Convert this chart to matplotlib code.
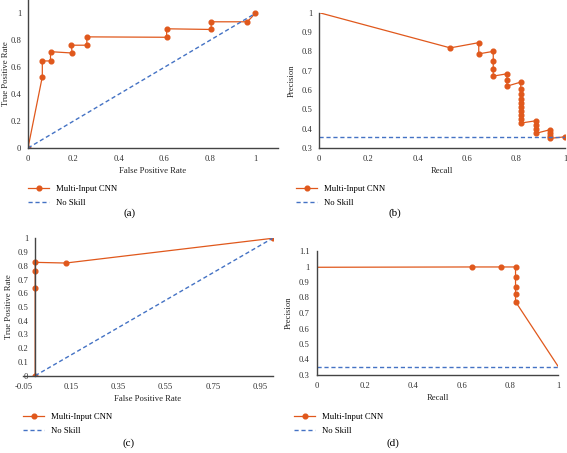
import numpy as np
import matplotlib
matplotlib.use('Agg')
from matplotlib import pyplot as plt
from matplotlib.ticker import FuncFormatter

plt.rcParams['axes.unicode_minus'] = False

# (a) ROC curve, first model
roc_a_fpr = [0, 0.063, 0.063, 0.099, 0.099, 0.194, 0.191, 0.259, 0.259, 0.61, 0.61, 0.806, 0.806, 0.965, 1.0]
roc_a_tpr = [0, 0.53, 0.647, 0.647, 0.716, 0.706, 0.764, 0.764, 0.826, 0.823, 0.886, 0.881, 0.938, 0.938, 1.0]

# (b) precision-recall curve, first model
pr_b_rec = [0, 0.533, 0.649, 0.649, 0.708, 0.708, 0.708, 0.708, 0.764, 0.764, 0.764,
            0.82, 0.82, 0.82, 0.82, 0.82, 0.82, 0.82, 0.82, 0.82, 0.82,
            0.882, 0.882, 0.882, 0.882, 0.94, 0.94, 0.94, 0.94, 1.0]
pr_b_prec = [1.0, 0.818, 0.845, 0.787, 0.800, 0.751, 0.711, 0.672, 0.684, 0.653, 0.620,
             0.641, 0.606, 0.579, 0.555, 0.532, 0.51, 0.489, 0.469, 0.45, 0.429,
             0.441, 0.42, 0.398, 0.376, 0.395, 0.377, 0.364, 0.35, 0.358]
noskill_b = 0.355

# (c) ROC curve, second model
roc_c_fpr = [0, 0, 0, 0, 0.129, 1.0]
roc_c_tpr = [0, 0.64, 0.762, 0.825, 0.82, 1.0]

# (d) precision-recall curve, second model
pr_d_rec = [0, 0.641, 0.763, 0.823, 0.823, 0.823, 0.823, 0.823, 1.0]
pr_d_prec = [0.995, 0.997, 0.997, 0.997, 0.93, 0.87, 0.823, 0.773, 0.354]
noskill_d = 0.354

orange = '#E0581C'
blue = '#4472C4'
serif = 'Liberation Serif'
fs = 6.2

fig = plt.figure(figsize=(5.67, 4.53), dpi=100)
W, H = 567.0, 453.0


def make_ax(l, r, b, t):
    ax = fig.add_axes([l / W, 1 - b / H, (r - l) / W, (b - t) / H])
    for s in ['top', 'right']:
        ax.spines[s].set_visible(False)
    for s in ['left', 'bottom']:
        ax.spines[s].set_color('#444444')
        ax.spines[s].set_linewidth(1.0)
    ax.tick_params(length=0, labelsize=fs, colors='#333333', pad=5)
    ax.xaxis.set_major_formatter(FuncFormatter(lambda v, p: '{:g}'.format(round(v, 2))))
    ax.yaxis.set_major_formatter(FuncFormatter(lambda v, p: '{:g}'.format(round(v, 2))))
    return ax


def style_labels(ax, xl, yl, ylab_x):
    ax.set_xlabel(xl, fontsize=fs, family=serif, color='#222222', labelpad=3)
    ax.set_ylabel(yl, fontsize=fs, family=serif, color='#222222')
    ax.yaxis.set_label_coords(ylab_x, 0.5)
    for lab in ax.get_xticklabels() + ax.get_yticklabels():
        lab.set_family(serif)


def add_legend(ax, x, y):
    ax.legend(loc='upper left', bbox_to_anchor=(x / W, 1 - y / H),
              bbox_transform=fig.transFigure, frameon=False,
              prop={'family': serif, 'size': fs}, handlelength=2.4,
              handletextpad=0.8, labelspacing=0.6, borderpad=0)


def plot_curve(ax, x, y, marker_from=0, marker_to=None):
    if marker_to is None:
        marker_to = len(x)
    ax.plot(x, y, color=orange, lw=0.9, marker='o', ms=3.4,
            markevery=list(range(marker_from, marker_to)), label='Multi-Input CNN')


# (a)
ax = make_ax(28, 278, 148, 0)
plot_curve(ax, roc_a_fpr, roc_a_tpr)
ax.plot([0, 1], [0, 1], ls=(0, (3, 2)), color=blue, lw=1.0, label='No Skill')
ax.set_xlim(0, 1.1)
ax.set_ylim(0, 1.1)
ax.set_xticks(np.arange(0, 1.01, 0.2))
ax.set_yticks(np.arange(0, 1.01, 0.2))
style_labels(ax, 'False Positive Rate', 'True Positive Rate', -0.07)
add_legend(ax, 24, 181)
fig.text(130 / W, 1 - 213 / H, '(a)', ha='center', va='center', fontsize=8, family=serif)

# (b)
ax = make_ax(319.3, 565, 148, 12.7)
plot_curve(ax, pr_b_rec, pr_b_prec, 1)
ax.axhline(noskill_b, ls=(0, (3, 2)), color=blue, lw=1.0, label='No Skill')
ax.set_xlim(0, 1)
ax.set_ylim(0.3, 1)
ax.set_xticks(np.arange(0, 1.01, 0.2))
ax.set_yticks(np.arange(0.3, 1.01, 0.1))
style_labels(ax, 'Recall', 'Precision', -0.095)
add_legend(ax, 292, 181)
fig.text(395 / W, 1 - 213 / H, '(b)', ha='center', va='center', fontsize=8, family=serif)

# (c)
ax = make_ax(23.3, 272.5, 375.7, 238.3)
plot_curve(ax, roc_c_fpr, roc_c_tpr)
ax.plot([0, 1], [0, 1], ls=(0, (3, 2)), color=blue, lw=1.0, label='No Skill')
ax.spines['left'].set_position(('data', 0))
ax.set_xlim(-0.05, 1.0)
ax.set_ylim(0, 1)
ax.set_xticks(np.arange(-0.05, 0.96, 0.2))
ax.set_yticks(np.arange(0, 1.01, 0.1))
style_labels(ax, 'False Positive Rate', 'True Positive Rate', -0.04)
add_legend(ax, 19, 409)
fig.text(129 / W, 1 - 443 / H, '(c)', ha='center', va='center', fontsize=8, family=serif)

# (d)
ax = make_ax(316.7, 558.3, 375, 251)
plot_curve(ax, pr_d_rec, pr_d_prec, 1, len(pr_d_rec) - 1)
ax.axhline(noskill_d, ls=(0, (3, 2)), color=blue, lw=1.0, label='No Skill')
ax.set_xlim(0, 1)
ax.set_ylim(0.3, 1.1)
ax.set_xticks(np.arange(0, 1.01, 0.2))
ax.set_yticks(np.arange(0.3, 1.11, 0.1))
style_labels(ax, 'Recall', 'Precision', -0.098)
add_legend(ax, 290, 409)
fig.text(393 / W, 1 - 443 / H, '(d)', ha='center', va='center', fontsize=8, family=serif)

plt.savefig('out.png', dpi=100)
